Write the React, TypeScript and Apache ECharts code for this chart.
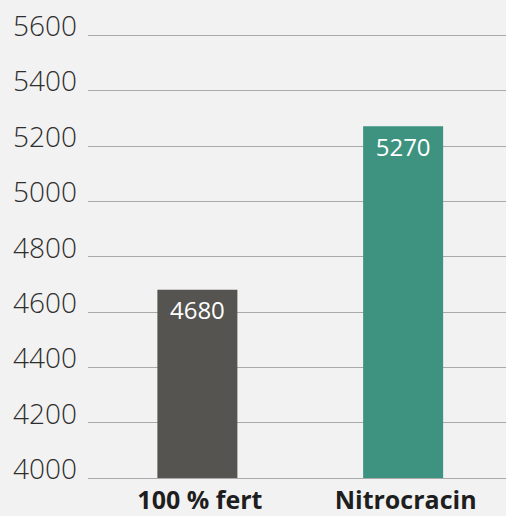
import React, { useEffect, useRef } from "react";
import * as echarts from "echarts";

const categories = ["100 % fert", "Nitrocracin"];
const values = [4680, 5270];
const barColors = ["#555451", "#3e9380"];
const yMin = 4000;
const yMax = 5600;
const yInterval = 200;

export default function App() {
  const ref = useRef<HTMLDivElement>(null);
  useEffect(() => {
    const chart = echarts.init(ref.current!, null, { renderer: "svg" });
    chart.setOption({
      animation: false,
      backgroundColor: "#f2f2f2",
      grid: [
        { left: 88, right: 0, top: 35, bottom: 38, containLabel: false },
        { left: 94.5, right: -2.5, top: 35, bottom: 38, containLabel: false },
      ],
      xAxis: [
        { type: "category", gridIndex: 0, data: categories, show: false },
        {
          type: "category",
          gridIndex: 1,
          data: categories,
          axisLine: { show: false },
          axisTick: { show: false },
          axisLabel: {
            color: "#1e1e1e",
            fontFamily: "Open Sans",
            fontWeight: "bold",
            fontSize: 25,
            lineHeight: 24,
            margin: 9,
            padding: [0, 0, 0, 5],
          },
        },
      ],
      yAxis: [
        {
          type: "value",
          gridIndex: 0,
          min: yMin,
          max: yMax,
          interval: yInterval,
          axisLine: { show: false },
          axisTick: { show: false },
          splitLine: { lineStyle: { color: "#a9a9a9", width: 1 } },
          axisLabel: {
            color: "#2e2e2e",
            fontFamily: "Open Sans",
            fontWeight: 300,
            fontSize: 28,
            margin: 11,
            verticalAlign: "bottom",
            lineHeight: 20,
            formatter: (v: number) => String(v),
          },
        },
        {
          type: "value",
          gridIndex: 1,
          min: yMin,
          max: yMax,
          interval: yInterval,
          show: false,
          splitLine: { show: false },
        },
      ],
      series: [
        {
          type: "bar",
          xAxisIndex: 1,
          yAxisIndex: 1,
          barWidth: 80,
          data: values.map((v, i) => ({ value: v, itemStyle: { color: barColors[i] } })),
          label: {
            show: true,
            position: "insideTop",
            color: "#ffffff",
            fontFamily: "Open Sans",
            fontSize: 24,
            distance: 8,
          },
        },
      ],
    });
    return () => chart.dispose();
  }, []);
  return <div ref={ref} style={{ width: 506, height: 516, position: "absolute", left: 0, top: 0 }} />;
}
